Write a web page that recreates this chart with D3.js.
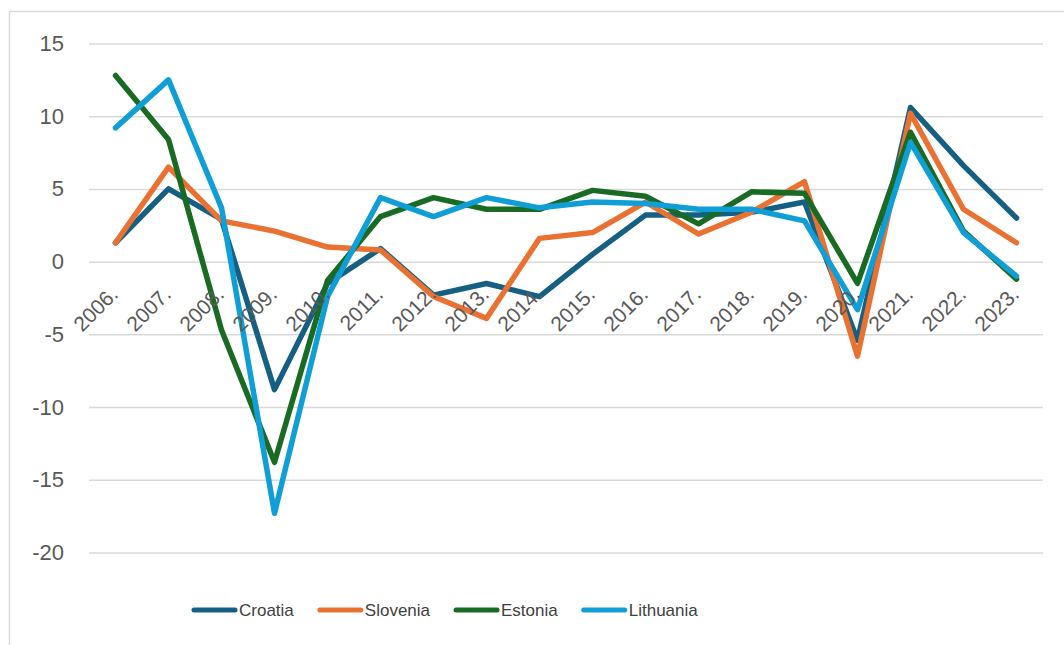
<!DOCTYPE html>
<html>
<head>
<meta charset="utf-8">
<script src="https://cdn.jsdelivr.net/npm/d3@7"></script>
<style>
    body { margin: 0; background: #fff; }
    svg { display: block; font-family: "Liberation Sans", Arial, sans-serif; }
    .grid line { stroke: #d9d9d9; stroke-width: 1.5; }
    .series { fill: none; stroke-width: 5.5; stroke-linejoin: round; stroke-linecap: round; }
</style>
</head>
<body>
<div id="chart"></div>
<script>
var years = ["2006.", "2007.", "2008.", "2009.", "2010.", "2011.", "2012.", "2013.", "2014.",
    "2015.", "2016.", "2017.", "2018.", "2019.", "2020.", "2021.", "2022.", "2023."];

var croatia   = [1.3, 5.0, 2.9, -8.8, -1.5, 0.9, -2.3, -1.5, -2.4, 0.5, 3.2, 3.2, 3.4, 4.1, -5.4, 10.6, 6.6, 3.0];
var slovenia  = [1.3, 6.5, 2.8, 2.1, 1.0, 0.8, -2.4, -3.9, 1.6, 2.0, 4.1, 1.9, 3.4, 5.5, -6.5, 10.2, 3.6, 1.3];
var estonia   = [12.8, 8.4, -4.7, -13.8, -1.3, 3.1, 4.4, 3.6, 3.6, 4.9, 4.5, 2.6, 4.8, 4.7, -1.5, 8.9, 2.1, -1.2];
var lithuania = [9.2, 12.5, 3.7, -17.3, -2.4, 4.4, 3.1, 4.4, 3.7, 4.1, 4.0, 3.6, 3.6, 2.8, -3.3, 8.2, 2.0, -1.0];

var seriesNames = ["Croatia", "Slovenia", "Estonia", "Lithuania"];
var yTicks = [15, 10, 5, 0, -5, -10, -15, -20];

function init() {
    var w = 1064;
    var h = 645;

    var colors = ["#156082", "#e97132", "#196b24", "#0f9ed5"];
    var values = [croatia, slovenia, estonia, lithuania];

    var svg = d3.select("#chart")
        .append("svg")
        .attr("width", w)
        .attr("height", h);

    // chart border (runs off the right and bottom edge)
    svg.append("rect")
        .attr("x", 9.5)
        .attr("y", 11.5)
        .attr("width", 1200)
        .attr("height", 800)
        .attr("fill", "none")
        .attr("stroke", "#d9d9d9")
        .attr("stroke-width", 1.5);

    var xScale = d3.scaleBand()
        .domain(years)
        .range([89, 1043]);

    var yScale = d3.scaleLinear()
        .domain([-20, 15])
        .range([552.5, 43.5]);

    function xc(i) { return xScale(years[i]) + xScale.bandwidth() / 2; }

    // gridlines
    var yGrid = d3.axisLeft(yScale)
        .tickValues(yTicks)
        .tickSize(-(1043 - 89))
        .tickFormat("");

    svg.append("g")
        .attr("class", "grid")
        .attr("transform", "translate(89,0)")
        .call(yGrid)
        .call(function(g) { g.select(".domain").remove(); });

    // y labels (plain hyphen for negatives)
    var yAxis = d3.axisLeft(yScale)
        .tickValues(yTicks)
        .tickSize(0)
        .tickPadding(0)
        .tickFormat(function(d) { return String(d); });

    svg.append("g")
        .attr("transform", "translate(64,0)")
        .call(yAxis)
        .call(function(g) {
            g.select(".domain").remove();
            g.selectAll("text")
                .attr("fill", "#595959")
                .style("font-size", "22px")
                .style("font-family", "'Liberation Sans', Arial, sans-serif");
        });

    // lines
    var line = d3.line()
        .x(function(d, i) { return xc(i); })
        .y(function(d) { return yScale(d); });

    values.forEach(function(v, k) {
        svg.append("path")
            .datum(v)
            .attr("class", "series")
            .attr("stroke", colors[k])
            .attr("d", line);
    });

    // category labels, rotated, sitting just under the zero line
    var xAxis = d3.axisBottom(xScale)
        .tickSize(0)
        .tickPadding(0);

    svg.append("g")
        .attr("transform", "translate(0," + yScale(0) + ")")
        .call(xAxis)
        .call(function(g) {
            g.select(".domain").remove();
            g.selectAll("text")
                .attr("fill", "#595959")
                .style("font-size", "21px")
                .style("font-family", "'Liberation Sans', Arial, sans-serif")
                .attr("text-anchor", "end")
                .attr("dy", null)
                .attr("y", 0)
                .attr("transform", "translate(4,34) rotate(-45)");
        });

    // legend
    var legend = svg.append("g").attr("transform", "translate(192,610)");
    var lx = 0;
    seriesNames.forEach(function(name, k) {
        var item = legend.append("g").attr("transform", "translate(" + lx + ",0)");
        item.append("line")
            .attr("x1", 2).attr("x2", 43)
            .attr("y1", 0).attr("y2", 0)
            .attr("stroke", colors[k])
            .attr("stroke-width", 5)
            .attr("stroke-linecap", "round");
        var t = item.append("text")
            .attr("x", 47)
            .attr("y", 6)
            .attr("fill", "#404040")
            .style("font-size", "17px")
            .text(name);
        lx += 47 + t.node().getComputedTextLength() + 24;
    });
}

window.onload = init;
</script>
</body>
</html>
